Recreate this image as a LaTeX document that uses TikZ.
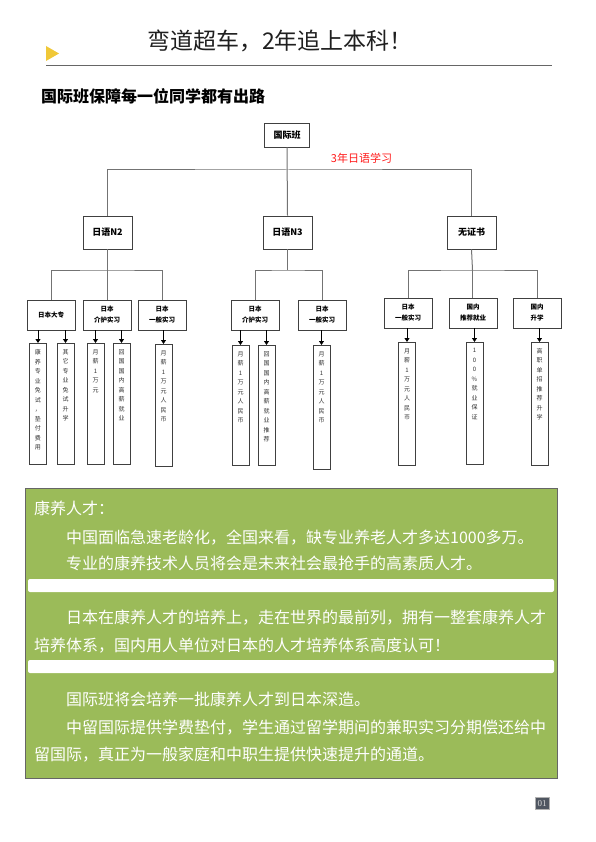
\documentclass[tikz,border=0pt]{standalone}
\usepackage{fontspec}
\setmainfont{Noto Sans CJK SC}
\newfontfamily\numfont{Liberation Serif}
\usetikzlibrary{positioning}
\usetikzlibrary{arrows.meta}
\definecolor{kygreen}{HTML}{9BBB59}
\definecolor{pagegray}{HTML}{4F5661}
\definecolor{markyellow}{HTML}{F0C838}
\newcommand{\vcol}[2][121]{\parbox[c][#1pt][t]{17pt}{\centering\vspace{6pt}#2}}

\begin{document}
\begin{tikzpicture}[x=1pt, y=-1pt, every node/.style={inner sep=0pt},
		lv1/.style={draw=black!75, line width=0.8pt, minimum width=45pt, minimum height=24pt, font=\fontsize{9}{11}\selectfont\bfseries},
		lv2/.style={draw=black!75, line width=0.8pt, minimum width=49pt, minimum height=33pt, font=\fontsize{9}{11}\selectfont\bfseries},
		lv3/.style={draw=black!75, line width=0.8pt, minimum width=48pt, minimum height=30pt, align=center, font=\fontsize{6.5}{11}\selectfont\bfseries},
		vbox/.style={draw=black!75, line width=0.8pt, anchor=north, text=black!80, font=\fontsize{6}{9.5}\selectfont},
		conn/.style={draw=black!55, line width=1pt},
		arr/.style={black, line width=0.8pt, -{Triangle[width=5pt,length=4pt]}},
		bodytext/.style={anchor=base west, text=white, font=\fontsize{16}{16}\selectfont}]
	\fill[white] (0,0) rectangle (596,842);
	\useasboundingbox (0,0) rectangle (596,842);
	\fill[markyellow] (46,46) -- (59,53.5) -- (46,61) -- cycle;
	\node[anchor=base, text=black!88, font=\fontsize{23}{23}\selectfont] (title) at (280,49.5) {弯道超车，2年追上本科！};
	\draw[black!60, line width=1pt] (46,66) -- (552,66);
	\node[anchor=base west, font=\fontsize{16}{16}\selectfont\bfseries] (sub) at (41,103) {国际班保障每一位同学都有出路};

	\node[lv1] (root) at (287,135) {国际班};
	\node[anchor=center, text=red!90, font=\fontsize{11}{11}\selectfont] (lbl) at (361.5,158) {3年日语学习};
	\node[lv2] (n2) at (107.5,232.5) {日语N2};
	\node[lv2] (n3) at (287.5,232.5) {日语N3};
	\node[lv2] (wzs) at (471.5,232.5) {无证书};

	\node[lv3] (jdz) at (51,315) {日本大专};
	\node[lv3] (jhl) at (107,315) {日本\\介护实习};
	\node[lv3] (jyb) at (162,315) {日本\\一般实习};
	\node[lv3] (jhl3) at (255,315) {日本\\介护实习};
	\node[lv3] (jyb3) at (322,315) {日本\\一般实习};
	\node[lv3] (jyb4) at (408,313) {日本\\一般实习};
	\node[lv3] (gtj) at (473,313) {国内\\推荐就业};
	\node[lv3] (gsx) at (537,313) {国内\\升学};

	\coordinate (b1) at (287.5,170);
	\coordinate (b2) at (107.5,270);
	\coordinate (b3) at (287.5,270);
	\coordinate (b4) at (472.5,270);
	\draw[conn] (n2.north) |- (b1) -| (wzs.north);
	\draw[conn] (root.south) -- (n3.north);
	\draw[conn] (n2.south) -- (b2);
	\draw[conn] (jdz.north) |- (b2) -| (jyb.north);
	\draw[conn] (b2) -- (b2 |- jhl.north);
	\draw[conn] (n3.south) -- (b3);
	\draw[conn] (jhl3.north) |- (b3) -| (jyb3.north);
	\draw[conn] (wzs.south) -- (b4);
	\draw[conn] (jyb4.north) |- (b4) -| (gsx.north);
	\draw[conn] (b4) -- (b4 |- gtj.north);

	\node[vbox] (v1) at (38,343) {\vcol{康\\养\\专\\业\\免\\试\\，\\垫\\付\\费\\用}};
	\node[vbox] (v2) at (65.5,343) {\vcol{其\\它\\专\\业\\免\\试\\升\\学}};
	\node[vbox] (v3) at (95.5,343) {\vcol{月\\薪\\1\\万\\元}};
	\node[vbox] (v4) at (121.5,343) {\vcol{回\\国\\国\\内\\高\\薪\\就\\业}};
	\node[vbox] (v5) at (163.5,344) {\vcol[122]{月\\薪\\1\\万\\元\\人\\民\\币}};
	\node[vbox] (v6) at (240.5,345) {\vcol[120]{月\\薪\\1\\万\\元\\人\\民\\币}};
	\node[vbox] (v7) at (266.5,345) {\vcol[120]{回\\国\\国\\内\\高\\薪\\就\\业\\推\\荐}};
	\node[vbox] (v8) at (321.5,345) {\vcol[124]{月\\薪\\1\\万\\元\\人\\民\\币}};
	\node[vbox] (v9) at (407,342) {\vcol[123]{月\\薪\\1\\万\\元\\人\\民\\币}};
	\node[vbox] (v10) at (474.5,342) {\vcol[122]{1\\0\\0\\\%\\就\\业\\保\\证}};
	\node[vbox] (v11) at (539.5,342) {\vcol[123]{高\\职\\单\\招\\推\\荐\\升\\学}};

	\draw[arr] (v1.north |- jdz.south) -- (v1.north);
	\draw[arr] (v2.north |- jdz.south) -- (v2.north);
	\draw[arr] (v3.north |- jhl.south) -- (v3.north);
	\draw[arr] (v4.north |- jhl.south) -- (v4.north);
	\draw[arr] (v5.north |- jyb.south) -- (v5.north);
	\draw[arr] (v6.north |- jhl3.south) -- (v6.north);
	\draw[arr] (v7.north |- jhl3.south) -- (v7.north);
	\draw[arr] (v8.north |- jyb3.south) -- (v8.north);
	\draw[arr] (v9.north |- jyb4.south) -- (v9.north);
	\draw[arr] (v10.north |- gtj.south) -- (v10.north);
	\draw[arr] (v11.north |- gsx.south) -- (v11.north);

	\draw[fill=kygreen, draw=black!60, line width=1pt] (25,488) rectangle (557,778);
	\fill[white, rounded corners=2pt] (28,579) rectangle (554,592);
	\fill[white, rounded corners=2pt] (28,660) rectangle (554,673);
	\node[bodytext] (t1) at (34,514) {康养人才：};
	\node[bodytext] (t2) at (66,543) {中国面临急速老龄化，全国来看，缺专业养老人才多达1000多万。};
	\node[bodytext] (t3) at (66,569) {专业的康养技术人员将会是未来社会最抢手的高素质人才。};
	\node[bodytext] (t4) at (66,623) {日本在康养人才的培养上，走在世界的最前列，拥有一整套康养人才};
	\node[bodytext] (t5) at (34,651) {培养体系，国内用人单位对日本的人才培养体系高度认可！};
	\node[bodytext] (t6) at (66,705) {国际班将会培养一批康养人才到日本深造。};
	\node[bodytext] (t7) at (66,733) {中留国际提供学费垫付，学生通过留学期间的兼职实习分期偿还给中};
	\node[bodytext] (t8) at (34,760) {留国际，真正为一般家庭和中职生提供快速提升的通道。};

	\node[fill=pagegray, draw=black!30, minimum width=14pt, minimum height=12pt, text=white!85!black, font=\numfont\fontsize{9}{9}\selectfont] (pg) at (542,803.5) {01};
\end{tikzpicture}
\end{document}
